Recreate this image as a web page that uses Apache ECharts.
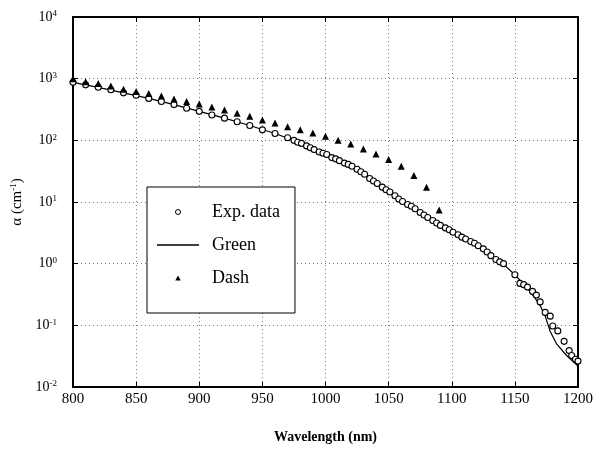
<!DOCTYPE html>
<html>
<head>
<meta charset="utf-8">
<script src="https://cdn.jsdelivr.net/npm/echarts@6/dist/echarts.min.js"></script>
<style>
  html, body { margin: 0; padding: 0; background: #fff; }
  #chart { width: 603px; height: 451px; }
</style>
</head>
<body>
<div id="chart"></div>
<script>
// wavelength (nm) / alpha (cm^-1)
var expWave = [800, 810, 820, 830, 840, 850, 860, 870, 880, 890, 900, 910, 920, 930, 940, 950, 960, 970,
  975, 978, 981, 985, 988, 991, 995, 998, 1001, 1005, 1008, 1011, 1015, 1018, 1021, 1025, 1028, 1031,
  1035, 1038, 1041, 1045, 1048, 1051, 1055, 1058, 1061, 1065, 1068, 1071, 1075, 1078, 1081, 1085, 1088,
  1091, 1095, 1098, 1101, 1105, 1108, 1111, 1115, 1118, 1121, 1125, 1128, 1131, 1135, 1138, 1141,
  1150, 1154, 1157, 1160, 1164, 1167, 1170, 1174, 1178, 1180, 1184, 1189, 1193, 1195, 1198, 1200];
var expAlpha = [871, 794, 724, 661, 589, 537, 479, 427, 380, 331, 295, 257, 229, 200, 174, 148, 129, 110,
  100, 93.3, 89.1, 81.3, 75.9, 70.8, 64.6, 61.7, 58.9, 52.5, 50.1, 46.8, 42.7, 40.7, 38.0, 33.9, 30.9, 28.2,
  24.0, 21.9, 20.0, 17.4, 15.8, 14.5, 12.6, 11.2, 10.2, 9.12, 8.51, 7.76, 6.76, 6.17, 5.62, 5.01, 4.57,
  4.17, 3.80, 3.55, 3.24, 2.95, 2.69, 2.51, 2.29, 2.14, 1.95, 1.74, 1.55, 1.35, 1.17, 1.07, 1.00,
  0.661, 0.479, 0.457, 0.417, 0.355, 0.309, 0.240, 0.162, 0.141, 0.0977, 0.0813, 0.0550, 0.0389, 0.0324, 0.0282, 0.0263];

var greenWave = [800, 820, 840, 860, 880, 900, 920, 940, 960, 980, 1000, 1020, 1040, 1060, 1080, 1100, 1120,
  1140, 1150, 1160, 1166, 1170, 1174, 1178, 1183, 1191, 1200];
var greenAlpha = [871, 724, 589, 479, 380, 295, 229, 174, 129, 91.2, 60.3, 38.9, 20.9, 10.7, 5.89, 3.31, 2.00,
  1.02, 0.661, 0.398, 0.275, 0.209, 0.141, 0.0794, 0.0501, 0.0324, 0.0219];

var dashWave = [800, 810, 820, 830, 840, 850, 860, 870, 880, 890, 900, 910, 920, 930, 940, 950, 960, 970,
  980, 990, 1000, 1010, 1020, 1030, 1040, 1050, 1060, 1070, 1080, 1090];
var dashAlpha = [1000, 891, 832, 759, 676, 617, 575, 525, 468, 427, 389, 347, 309, 275, 245, 214, 191, 166,
  148, 132, 117, 100, 87.1, 72.4, 60.3, 49.0, 38.0, 26.9, 17.4, 7.41];

var xTicks = [800, 850, 900, 950, 1000, 1050, 1100, 1150, 1200];

function pairs(xs, ys) {
  var out = [];
  for (var i = 0; i < xs.length; i++) out.push([xs[i], ys[i]]);
  return out;
}

var serif = 'Liberation Serif';
var grid = { left: 73, right: 25, top: 17, bottom: 64 };
var gridLine = { show: true, lineStyle: { color: '#777', width: 1, type: [1, 3] } };
var frame = { show: true, lineStyle: { color: '#000', width: 2 } };
var tick = { show: true, inside: true, length: 5, lineStyle: { color: '#000', width: 1 } };

function powLabel(v) {
  var e = Math.round(Math.log10(v));
  return '{b|10}{s|' + e + '}';
}

var chart = echarts.init(document.getElementById('chart'));
chart.setOption({
  animation: false,
  backgroundColor: '#fff',
  grid: grid,
  legend: {
    left: 147,
    top: 187,
    orient: 'vertical',
    data: [
      { name: 'Exp. data', icon: 'circle', itemStyle: { color: '#fff', borderColor: '#000', borderWidth: 1 } },
      { name: 'Green', icon: 'path://M0,0H42V1.6H0Z', itemStyle: { color: '#000', borderWidth: 0 } },
      { name: 'Dash', icon: 'path://M3,0L6,5.5L0,5.5Z', itemStyle: { color: '#000', borderWidth: 0 } }
    ],
    selectedMode: false,
    symbolKeepAspect: true,
    itemWidth: 42,
    itemHeight: 5,
    itemGap: 13,
    padding: [15, 15, 25, 10],
    backgroundColor: '#fff',
    borderColor: '#000',
    borderWidth: 1,
    borderRadius: 0,
    textStyle: { fontFamily: serif, fontSize: 18, color: '#000', lineHeight: 20, padding: [0, 0, 0, 8] }
  },
  xAxis: [{
    type: 'value',
    min: 800, max: 1200, interval: 50,
    name: 'Wavelength (nm)',
    nameLocation: 'middle',
    nameGap: 43,
    nameTextStyle: { fontFamily: serif, fontSize: 14, fontWeight: 'bold', color: '#000' },
    axisLine: frame,
    axisTick: tick,
    splitLine: gridLine,
    axisLabel: { fontFamily: serif, fontSize: 15, color: '#000', margin: 5,
      formatter: function (v) { return xTicks.indexOf(v) >= 0 ? String(v) : ''; } }
  }, {
    type: 'value',
    position: 'top',
    min: 800, max: 1200, interval: 50,
    axisLine: frame,
    axisTick: tick,
    splitLine: { show: false },
    axisLabel: { show: false }
  }],
  yAxis: [{
    type: 'log',
    logBase: 10,
    min: 0.01, max: 10000,
    splitNumber: 6,
    name: 'α (cm{s|-1})',
    nameLocation: 'middle',
    nameGap: 38,
    nameRotate: 90,
    nameTextStyle: { fontFamily: serif, fontSize: 15, color: '#000',
      rich: { s: { fontFamily: serif, fontSize: 9, verticalAlign: 'top', color: '#000' } } },
    axisLine: frame,
    axisTick: tick,
    splitLine: gridLine,
    axisLabel: {
      margin: 16,
      formatter: powLabel,
      rich: {
        b: { fontFamily: serif, fontSize: 14, color: '#000' },
        s: { fontFamily: serif, fontSize: 9, color: '#000', verticalAlign: 'top', padding: [0, 0, 6, 0] }
      }
    }
  }, {
    type: 'log',
    logBase: 10,
    position: 'right',
    min: 0.01, max: 10000,
    splitNumber: 6,
    axisLine: frame,
    axisTick: tick,
    splitLine: { show: false },
    axisLabel: { show: false }
  }],
  series: [{
    name: 'Green',
    type: 'line',
    data: pairs(greenWave, greenAlpha),
    symbol: 'none',
    lineStyle: { color: '#000', width: 1.2 },
    itemStyle: { color: '#000' },
    z: 2
  }, {
    name: 'Exp. data',
    type: 'scatter',
    data: pairs(expWave, expAlpha),
    symbol: 'circle',
    symbolSize: 6,
    itemStyle: { color: '#fff', borderColor: '#000', borderWidth: 1.1, opacity: 1 },
    z: 3
  }, {
    name: 'Dash',
    type: 'scatter',
    data: pairs(dashWave, dashAlpha),
    symbol: 'triangle',
    symbolSize: 7,
    itemStyle: { color: '#000', opacity: 1 },
    z: 3
  }]
});
</script>
</body>
</html>
